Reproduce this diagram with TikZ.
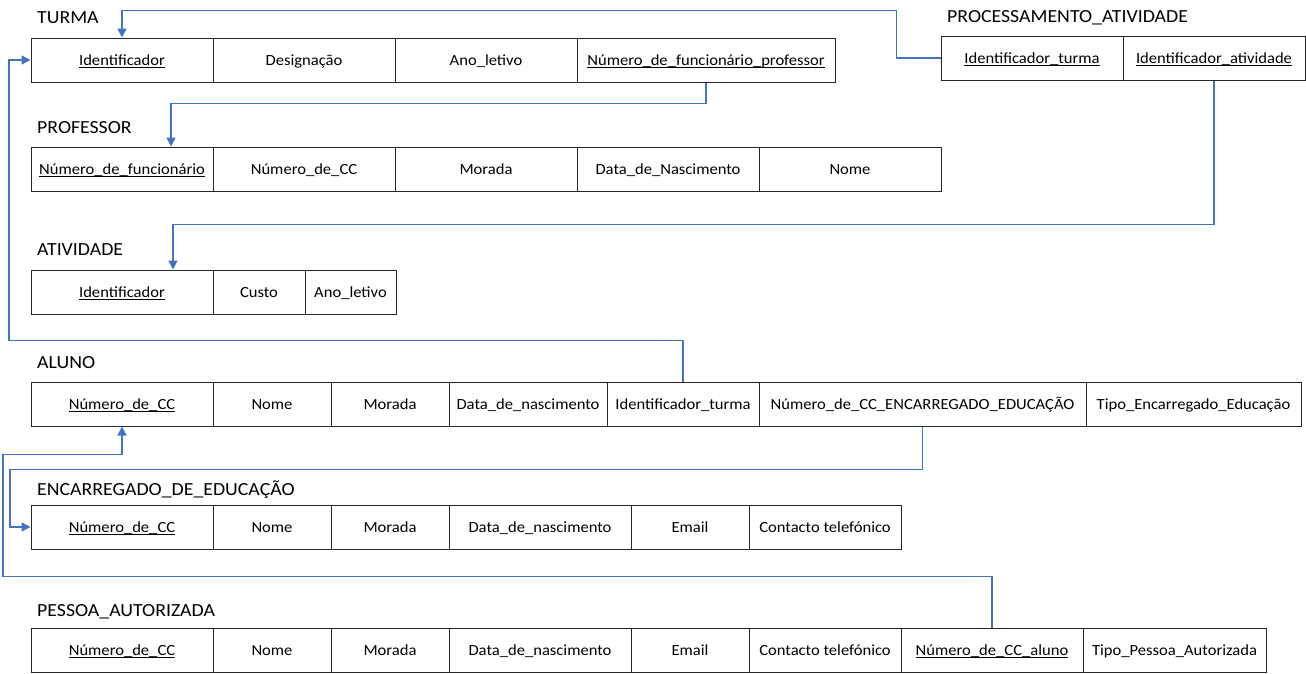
\documentclass[tikz,border=0pt]{standalone}
\usepackage{fontspec}
\setmainfont{Carlito}[FakeStretch=1.07]
\usetikzlibrary{arrows.meta}
\definecolor{connblue}{HTML}{4472C4}
\newcommand\ukey[1]{\setbox0\hbox{#1}\rlap{\rule[-2.6pt]{\wd0}{0.9pt}}\box0}
\tikzset{
  cell/.style={draw=black!85, line width=1pt, inner sep=0pt, minimum height=44pt,
    text height=13pt, text depth=3pt,
    font=\fontsize{15.5}{18}\selectfont, text=black},
  ttl/.style={anchor=west, inner sep=0pt, text height=12.5pt, text depth=4pt,
    font=\fontsize{18.5}{22}\selectfont, text=black},
  conn/.style={draw=connblue, line width=1.4pt, line join=miter},
  arr/.style={conn, -{Triangle[length=9pt,width=9pt]}}
}
\begin{document}
\begin{tikzpicture}[x=1pt,y=-1pt]
\useasboundingbox (0,0) rectangle (1306,673);
% TURMA
\node[ttl] (tT) at (37,19.5) {TURMA};
\node[cell, minimum width=182pt] (t1) at (122,60) {\ukey{Identificador}};
\node[cell, minimum width=182pt] (t2) at (304,60) {Designação};
\node[cell, minimum width=182pt] (t3) at (486,60) {Ano\_letivo};
\node[cell, minimum width=258pt] (t4) at (706,60) {\ukey{Número\_de\_funcionário\_professor}};
% PROCESSAMENTO_ATIVIDADE
\node[ttl] (tP) at (947,18.5) {PROCESSAMENTO\_ATIVIDADE};
\node[cell, minimum width=182pt] (p1) at (1032,58) {\ukey{Identificador\_turma}};
\node[cell, minimum width=182pt] (p2) at (1214,58) {\ukey{Identificador\_atividade}};
% PROFESSOR
\node[ttl] (tR) at (37,129.5) {PROFESSOR};
\node[cell, minimum width=182pt] (r1) at (122,169) {\ukey{Número\_de\_funcionário}};
\node[cell, minimum width=182pt] (r2) at (304,169) {Número\_de\_CC};
\node[cell, minimum width=182pt] (r3) at (486,169) {Morada};
\node[cell, minimum width=182pt] (r4) at (668,169) {Data\_de\_Nascimento};
\node[cell, minimum width=182pt] (r5) at (850,169) {Nome};
% ATIVIDADE
\node[ttl] (tA) at (37,251.5) {ATIVIDADE};
\node[cell, minimum width=182pt] (a1) at (122,292) {\ukey{Identificador}};
\node[cell, minimum width=92pt] (a2) at (259,292) {Custo};
\node[cell, minimum width=91pt] (a3) at (350.5,292) {Ano\_letivo};
% ALUNO
\node[ttl] (tL) at (37,364.5) {ALUNO};
\node[cell, minimum width=182pt] (l1) at (122,404) {\ukey{Número\_de\_CC}};
\node[cell, minimum width=118pt] (l2) at (272,404) {Nome};
\node[cell, minimum width=118pt] (l3) at (390,404) {Morada};
\node[cell, minimum width=158pt] (l4) at (528,404) {Data\_de\_nascimento};
\node[cell, minimum width=152pt] (l5) at (683,404) {Identificador\_turma};
\node[cell, minimum width=327pt] (l6) at (922.5,404) {Número\_de\_CC\_ENCARREGADO\_EDUCAÇÃO};
\node[cell, minimum width=215pt] (l7) at (1193.5,404) {Tipo\_Encarregado\_Educação};
% ENCARREGADO_DE_EDUCACAO
\node[ttl] (tE) at (37,491.5) {ENCARREGADO\_DE\_EDUCAÇÃO};
\node[cell, minimum width=182pt] (e1) at (122,527) {\ukey{Número\_de\_CC}};
\node[cell, minimum width=118pt] (e2) at (272,527) {Nome};
\node[cell, minimum width=118pt] (e3) at (390,527) {Morada};
\node[cell, minimum width=182pt] (e4) at (540,527) {Data\_de\_nascimento};
\node[cell, minimum width=118pt] (e5) at (690,527) {Email};
\node[cell, minimum width=152pt] (e6) at (825,527) {Contacto telefónico};
% PESSOA_AUTORIZADA
\node[ttl] (tS) at (37,612.5) {PESSOA\_AUTORIZADA};
\node[cell, minimum width=182pt] (s1) at (122,650) {\ukey{Número\_de\_CC}};
\node[cell, minimum width=118pt] (s2) at (272,650) {Nome};
\node[cell, minimum width=118pt] (s3) at (390,650) {Morada};
\node[cell, minimum width=182pt] (s4) at (540,650) {Data\_de\_nascimento};
\node[cell, minimum width=118pt] (s5) at (690,650) {Email};
\node[cell, minimum width=152pt] (s6) at (825,650) {Contacto telefónico};
\node[cell, minimum width=182pt] (s7) at (992,650) {\ukey{Número\_de\_CC\_aluno}};
\node[cell, minimum width=183pt] (s8) at (1174.5,650) {Tipo\_Pessoa\_Autorizada};
% connectors
\draw[arr] (p1.west) -- ++(-44,0) |- ([yshift=27pt]t1.north) -- (t1.north);
\draw[arr] (t4.south) -- ++(0,21) -| ([xshift=49pt]r1.north);
\draw[arr] (p2.south) -- ++(0,144) -| ([xshift=51pt]a1.north);
\draw[arr] (l5.north) -- ++(0,-41) -- ++(-674,0) |- (t1.west);
\draw[arr] (l6.south) -- ++(0,43) -- ++(-912.5,0) |- (e1.west);
\draw[arr] (s7.north) -- ++(0,-51) -- ++(-989,0) -- ++(0,-122) -| (l1.south);
\end{tikzpicture}
\end{document}
